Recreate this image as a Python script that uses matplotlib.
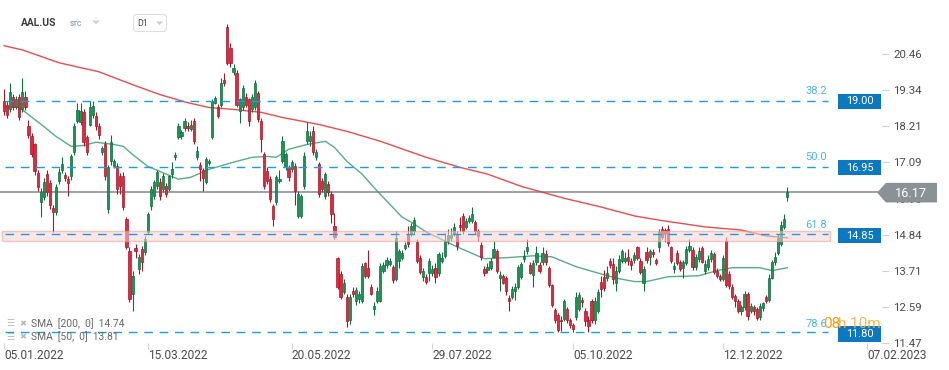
import matplotlib
matplotlib.use('Agg')
import matplotlib.pyplot as plt
from matplotlib.patches import Rectangle, Polygon, FancyBboxPatch
import numpy as np

plt.rcParams['font.family'] = ['Roboto', 'DejaVu Sans']
plt.rcParams['lines.scale_dashes'] = False

# ---------------- data ----------------
opens = [
 18.98, 18.88, 18.73, 19.13, 18.82, 19.13, 18.73, 19.13, 18.23, 17.89,
 17.64, 16.75, 15.85, 16.00, 16.72, 16.44, 15.67, 15.54, 16.50, 16.84,
 16.69, 16.56, 16.65, 17.40, 18.36, 18.33, 18.64, 17.86, 18.26, 18.57,
 18.54, 18.20, 17.40, 17.64, 15.63, 17.12, 16.96, 16.96, 16.65, 16.65,
 15.32, 14.33, 13.00, 14.43, 13.78, 14.40, 14.30, 14.92, 15.73, 16.04,
 16.34, 16.47, 16.25, 16.34, 16.25, 16.72, 17.24, 17.86, 17.89, 18.14,
 18.23, 18.11, 18.36, 17.24, 16.99, 16.84, 16.47, 17.06, 17.86, 18.94,
 18.82, 18.88, 19.66, 21.30, 20.65, 19.90, 19.87, 18.67, 18.79, 19.13,
 19.04, 18.73, 18.79, 19.25, 18.36, 17.33, 16.81, 16.56, 15.73, 15.85,
 16.50, 17.12, 16.93, 16.93, 16.87, 16.96, 15.42, 15.42, 16.34, 17.74,
 17.74, 18.05, 17.24, 17.03, 16.50, 16.04, 16.41, 16.10, 15.11, 14.12,
 13.62, 13.07, 12.91, 12.17, 13.10, 12.76, 12.85, 12.79, 13.96, 13.81,
 13.22, 12.54, 12.79, 12.79, 13.72, 13.90, 13.93, 13.84, 13.47, 14.02,
 14.12, 14.43, 14.86, 14.86, 14.95, 14.61, 14.12, 13.53, 13.53, 13.65,
 13.65, 13.81, 13.65, 14.02, 14.18, 14.64, 14.74, 14.86, 14.86, 15.14,
 15.42, 15.08, 15.26, 15.26, 15.23, 14.95, 14.52, 13.78, 13.75, 13.81,
 14.15, 14.33, 13.50, 13.56, 13.50, 12.88, 12.91, 13.10, 13.22, 13.53,
 14.09, 14.33, 13.90, 13.59, 13.99, 13.90, 13.99, 14.24, 13.81, 13.28,
 12.51, 12.35, 12.20, 12.23, 12.54, 12.17, 12.04, 12.29, 12.54, 12.82,
 12.48, 12.20, 12.79, 12.17, 12.48, 13.37, 13.53, 13.50, 14.02, 13.93,
 13.34, 13.72, 14.02, 14.02, 14.15, 14.02, 14.06, 14.46, 14.02, 13.34,
 14.30, 14.15, 14.30, 14.06, 14.46, 15.01, 14.98, 15.01, 14.46, 13.78,
 14.27, 13.99, 13.81, 13.96, 14.37, 14.37, 13.84, 14.09, 14.43, 13.72,
 13.84, 14.09, 14.24, 13.72, 13.56, 13.47, 14.64, 13.62, 13.22, 12.94,
 12.79, 12.45, 12.60, 13.00, 12.48, 12.60, 12.54, 12.29, 12.57, 12.91,
 12.82, 13.50, 13.99, 14.27, 14.55, 15.08, 16.00]
closes = [
 18.67, 18.57, 19.28, 18.79, 19.04, 18.48, 19.28, 18.82, 17.95, 17.33,
 16.81, 16.31, 16.16, 16.47, 16.16, 15.76, 15.54, 16.31, 16.78, 17.03,
 16.59, 16.44, 17.27, 18.23, 18.70, 18.67, 17.71, 17.40, 18.82, 18.85,
 18.20, 17.92, 17.52, 16.65, 16.93, 17.71, 17.12, 16.25, 16.34, 15.70,
 14.46, 12.85, 13.56, 14.33, 14.15, 13.99, 14.71, 15.48, 16.25, 16.47,
 16.78, 16.04, 16.65, 16.10, 16.65, 16.87, 17.30, 18.20, 18.02, 18.36,
 18.14, 18.26, 17.74, 17.43, 16.87, 16.59, 17.18, 17.12, 18.98, 19.07,
 18.54, 19.56, 19.56, 20.18, 20.18, 20.03, 18.88, 19.04, 19.41, 18.88,
 18.36, 19.13, 19.56, 18.42, 17.80, 16.34, 16.50, 15.94, 15.32, 16.62,
 16.56, 17.74, 17.33, 16.62, 17.09, 16.19, 16.10, 16.04, 17.27, 18.05,
 17.89, 17.40, 17.40, 16.10, 16.25, 16.72, 16.16, 15.48, 14.77, 13.22,
 12.91, 13.35, 12.14, 12.91, 13.00, 13.13, 13.00, 13.87, 13.56, 13.56,
 13.00, 12.63, 13.10, 13.87, 13.90, 14.06, 14.02, 13.44, 14.74, 14.33,
 14.27, 14.52, 14.55, 15.11, 15.29, 14.02, 13.69, 13.72, 13.37, 14.02,
 13.78, 13.53, 14.24, 14.12, 14.64, 14.83, 14.83, 15.08, 14.49, 15.08,
 14.95, 15.26, 15.36, 15.48, 14.95, 14.80, 14.15, 13.65, 13.84, 14.02,
 14.40, 13.72, 13.59, 13.35, 13.10, 12.79, 13.16, 13.22, 13.84, 13.93,
 14.18, 14.46, 13.65, 13.96, 14.27, 13.72, 14.27, 13.99, 13.28, 12.66,
 12.17, 11.86, 12.14, 12.76, 12.20, 12.04, 11.92, 12.91, 12.97, 12.73,
 12.14, 12.01, 12.20, 12.79, 13.07, 13.16, 13.19, 13.65, 13.90, 13.47,
 13.72, 14.09, 14.33, 14.12, 14.02, 13.90, 14.21, 14.12, 13.69, 13.78,
 14.06, 14.33, 14.24, 13.96, 14.92, 14.77, 14.86, 14.58, 14.02, 13.87,
 13.96, 13.78, 13.99, 14.40, 14.49, 13.84, 14.15, 14.33, 13.99, 13.93,
 14.09, 14.27, 13.69, 13.56, 13.47, 14.12, 13.28, 13.25, 12.91, 12.79,
 12.45, 12.60, 13.00, 12.32, 12.63, 12.45, 12.26, 12.63, 12.70, 12.79,
 13.50, 13.99, 14.15, 14.74, 15.14, 15.32, 16.17]
highs = [
 19.35, 18.98, 19.56, 19.20, 19.15, 19.20, 19.72, 19.30, 18.40, 18.00,
 17.70, 16.85, 16.30, 16.60, 16.85, 16.55, 15.75, 16.40, 16.90, 17.25,
 16.80, 16.65, 17.35, 18.30, 18.94, 18.94, 18.75, 17.95, 19.00, 18.98,
 18.65, 18.30, 17.60, 17.75, 17.00, 17.95, 17.20, 17.05, 16.75, 16.80,
 15.40, 14.45, 13.70, 14.55, 14.25, 14.50, 14.80, 15.55, 16.35, 16.55,
 16.85, 16.60, 16.75, 16.45, 16.70, 17.10, 17.40, 18.30, 18.10, 18.45,
 18.35, 18.40, 18.45, 17.60, 17.10, 16.90, 17.25, 17.20, 19.05, 19.15,
 18.90, 19.70, 19.85, 21.39, 20.80, 20.15, 19.95, 19.10, 19.50, 19.25,
 19.10, 19.20, 19.65, 19.30, 18.45, 17.40, 16.95, 16.65, 15.80, 16.70,
 16.85, 17.90, 17.40, 17.00, 17.15, 17.05, 16.20, 16.10, 17.40, 18.35,
 18.05, 18.20, 17.50, 17.10, 16.60, 16.80, 16.50, 16.20, 15.50, 14.15,
 13.70, 13.45, 13.00, 13.00, 13.20, 13.20, 13.10, 13.95, 14.00, 14.35,
 13.30, 12.75, 13.20, 13.95, 14.00, 14.15, 14.10, 13.90, 14.95, 14.40,
 14.35, 14.60, 15.10, 15.20, 15.40, 14.70, 14.20, 13.80, 13.60, 14.10,
 13.90, 13.95, 14.30, 14.30, 14.90, 15.00, 15.05, 15.20, 14.95, 15.40,
 15.50, 15.35, 15.45, 15.70, 15.30, 15.00, 14.60, 13.85, 13.95, 14.10,
 14.65, 14.40, 13.70, 13.60, 13.55, 12.95, 13.25, 13.35, 13.90, 14.00,
 14.35, 14.70, 14.00, 14.05, 14.50, 14.00, 14.45, 14.35, 13.85, 13.30,
 12.55, 12.40, 12.30, 12.85, 12.60, 12.25, 12.10, 13.05, 13.05, 12.90,
 12.55, 12.30, 12.85, 12.90, 13.15, 13.55, 13.75, 13.85, 14.10, 14.10,
 13.85, 14.20, 14.40, 14.30, 14.40, 14.10, 14.30, 14.50, 14.10, 13.85,
 14.45, 14.40, 14.40, 14.10, 15.00, 15.10, 15.05, 15.15, 14.50, 14.00,
 14.35, 14.05, 14.05, 14.50, 14.70, 14.45, 14.25, 14.45, 14.50, 14.05,
 14.20, 14.35, 14.30, 13.80, 13.60, 14.20, 14.75, 13.70, 13.30, 13.00,
 12.85, 12.65, 13.10, 13.05, 12.70, 12.65, 12.60, 12.70, 12.75, 12.95,
 13.60, 14.05, 14.30, 14.85, 15.25, 15.48, 16.31]
lows = [
 18.57, 18.45, 18.65, 18.70, 18.75, 18.40, 18.65, 18.70, 17.85, 17.25,
 16.70, 16.20, 15.39, 15.90, 16.05, 15.65, 14.92, 15.45, 16.40, 16.75,
 16.50, 16.04, 16.55, 17.30, 18.30, 18.25, 17.60, 17.30, 18.20, 18.45,
 18.10, 17.80, 17.30, 16.55, 15.50, 17.00, 16.90, 16.10, 16.10, 15.60,
 14.40, 12.75, 12.48, 14.10, 13.60, 13.70, 14.20, 14.85, 15.60, 15.95,
 16.25, 15.90, 16.15, 16.00, 16.20, 16.60, 17.15, 17.80, 17.80, 18.05,
 18.05, 18.05, 17.65, 17.15, 16.50, 16.20, 16.40, 17.00, 17.80, 18.90,
 18.45, 18.80, 19.45, 20.10, 20.05, 19.80, 18.80, 18.30, 18.70, 18.80,
 18.20, 18.65, 18.70, 18.35, 17.40, 16.25, 16.40, 15.85, 15.11, 15.75,
 16.45, 17.05, 16.85, 16.50, 16.80, 15.75, 15.35, 15.35, 16.25, 17.65,
 17.60, 17.30, 17.15, 16.00, 16.15, 15.95, 16.05, 15.20, 14.70, 13.15,
 12.85, 13.00, 11.98, 12.05, 12.90, 12.65, 12.70, 12.70, 13.50, 13.50,
 12.95, 12.35, 12.70, 12.75, 13.65, 13.80, 13.85, 13.35, 13.40, 13.80,
 14.05, 14.35, 14.45, 14.80, 14.85, 13.95, 13.60, 13.40, 13.30, 13.40,
 13.55, 13.35, 13.55, 13.95, 14.10, 14.55, 14.65, 14.80, 14.35, 14.95,
 14.85, 15.00, 15.20, 15.20, 14.85, 14.65, 14.05, 13.55, 13.65, 13.75,
 14.10, 13.65, 13.10, 13.30, 12.95, 12.45, 12.85, 12.80, 13.15, 13.45,
 14.00, 14.25, 13.60, 13.20, 13.90, 13.65, 13.90, 13.90, 13.20, 12.60,
 12.10, 11.80, 11.85, 12.15, 12.10, 11.95, 11.80, 12.20, 12.45, 12.60,
 12.00, 11.80, 12.10, 12.05, 12.40, 12.90, 13.10, 13.40, 13.80, 13.30,
 13.10, 13.65, 13.95, 13.95, 13.90, 13.75, 13.95, 14.05, 13.60, 13.10,
 13.95, 13.90, 14.15, 13.90, 14.30, 14.70, 14.60, 14.50, 13.95, 13.65,
 13.90, 13.70, 13.50, 13.90, 14.30, 13.75, 13.75, 14.00, 13.95, 13.60,
 13.75, 14.00, 13.60, 13.50, 13.40, 13.40, 13.20, 13.15, 12.85, 12.60,
 12.40, 12.35, 12.50, 12.20, 12.40, 12.35, 12.20, 12.20, 12.45, 12.70,
 12.75, 13.45, 13.90, 14.20, 14.50, 15.00, 15.88]

# moving averages read at sample bars
sma200_bar = [0, 6, 18, 31, 42, 51, 60, 67, 75, 84, 91, 103, 112, 123, 138, 149,
              158, 169, 183, 195, 206, 214, 229, 241, 249, 256]
sma200_val = [20.71, 20.58, 20.18, 19.90, 19.50, 19.19, 18.94, 18.79, 18.73, 18.64,
              18.48, 18.26, 18.05, 17.74, 17.24, 16.93, 16.72, 16.34, 15.97, 15.70,
              15.42, 15.29, 15.08, 14.98, 14.80, 14.74]
sma50_bar = [0, 5, 8, 13, 17, 22, 26, 30, 36, 39, 42, 47, 53, 57, 61, 67, 75, 81, 86,
             89, 93, 99, 105, 108, 112, 117, 122, 126, 130, 133, 138, 148, 157, 164,
             173, 179, 187, 195, 201, 206, 210, 217, 227, 233, 238, 247, 251, 256]
sma50_val = [18.82, 18.79, 18.57, 18.20, 17.89, 17.58, 17.61, 17.71, 17.64, 17.58,
             17.33, 16.96, 16.72, 16.56, 16.62, 16.87, 17.09, 17.24, 17.27, 17.24,
             17.49, 17.64, 17.74, 17.55, 17.12, 16.72, 16.19, 15.79, 15.39, 15.23,
             14.92, 14.46, 14.09, 14.12, 14.18, 14.15, 13.84, 13.62, 13.47, 13.38,
             13.38, 13.53, 13.56, 13.72, 13.81, 13.81, 13.72, 13.81]

fib_levels = [19.00, 16.95, 14.85, 11.80]
fib_labels = ['38.2', '50.0', '61.8', '78.6']
zone_low, zone_high = 14.64, 14.95
last_price = 16.17

y_ticks = [20.46, 19.34, 18.21, 17.09, 15.96, 14.84, 13.71, 12.59, 11.47]
date_bar = [0, 47, 94, 140, 186, 235, 282]
date_labels = ['05.01.2022', '15.03.2022', '20.05.2022', '29.07.2022',
               '05.10.2022', '12.12.2022', '07.02.2023']

legend_lines = ['SMA  [200,  0]  14.74', 'SMA  [50,  0]  13.81']

# ---------------- layout ----------------
W, H = 949, 370
fig = plt.figure(figsize=(W / 100, H / 100), dpi=100)
fig.patch.set_facecolor('white')

AX_R, AX_B = 882, 343
PPU = 32.32            # pixels per price unit
V_TOP = 22.131         # price at top pixel row
PX_BAR = 3.06
X0 = 4.0               # pixel of first bar


def vy(v):
    return (V_TOP - v) * PPU


def bx(px):
    return (px - X0) / PX_BAR


ax = fig.add_axes([0, (H - AX_B) / H, AX_R / W, AX_B / H])
ax.set_facecolor('white')
ax.set_ylim(V_TOP - AX_B / PPU, V_TOP)
ax.set_xlim(bx(0), bx(AX_R))
for s in ax.spines.values():
    s.set_visible(False)

o = np.array(opens); c = np.array(closes)
h = np.maximum(np.array(highs), np.maximum(o, c))
l = np.minimum(np.array(lows), np.minimum(o, c))
x = np.arange(len(c))
up = c >= o
g_fill, g_edge = '#1d9156', '#0e6e3c'
r_fill, r_edge = '#de2a3e', '#a51627'
ax.vlines(x, l, h, colors=np.where(up, g_edge, r_edge), lw=0.8, zorder=3)
body_b = np.minimum(o, c)
body_h = np.maximum(np.abs(c - o), 0.04)
ax.bar(x, body_h, bottom=body_b, width=0.72, color=np.where(up, g_fill, r_fill),
       edgecolor=np.where(up, g_edge, r_edge), linewidth=0.5, zorder=4)

# moving averages
ax.plot(sma200_bar, sma200_val, color='#e5393c', lw=1.0, zorder=2.5, alpha=0.9)
ax.plot(sma50_bar, sma50_val, color='#3a9d74', lw=1.0, zorder=2.5, alpha=0.85)

# last price line
ax.plot([bx(0), bx(878)], [last_price, last_price], color='#80878b', lw=1.1, zorder=2)

# pink zone
ax.add_patch(Rectangle((bx(2), zone_low), bx(830) - bx(2), zone_high - zone_low,
                       facecolor='#fbd3d3', edgecolor='#f09a9a', lw=1.0, alpha=0.55,
                       zorder=5))

# fib dashed lines
for lv in fib_levels:
    ax.plot([bx(5), bx(828)], [lv, lv], color='#1c9de2', lw=1.0,
            linestyle=(0, (6.2, 4.9)), zorder=6)

# ticks
ax.yaxis.tick_right()
ax.set_yticks(y_ticks)
ax.set_yticklabels([f'{t:.2f}' for t in y_ticks])
ax.tick_params(axis='y', direction='out', length=5, width=0.8, colors='#cfcfcf',
               labelcolor='#4a4a4a', labelsize=8.2, pad=3)
ax.set_xticks(date_bar)
ax.set_xticklabels(date_labels)
ax.tick_params(axis='x', direction='out', length=4, width=0.8, colors='#d5d5d5',
               labelcolor='#4a4a4a', labelsize=8.6, pad=0.5)
for lbl in ax.get_xticklabels():
    lbl.set_ha('left')

# ---------------- overlay (pixel coordinates) ----------------
ov = fig.add_axes([0, 0, 1, 1])
ov.set_xlim(0, W)
ov.set_ylim(H, 0)
ov.axis('off')

for lv, lab in zip(fib_levels, fib_labels):
    y = vy(lv)
    ov.text(827, y - 10, lab, color='#4db3ec', fontsize=8, ha='right', va='center')
    ov.add_patch(Rectangle((838, y - 7.5), 43.5, 15.5, facecolor='#0b78c0',
                           edgecolor='none', zorder=7))
    ov.text(859.5, y + 0.3, f'{lv:.2f}', color='white', fontsize=7.9, ha='center',
            va='center', zorder=8)

# last price badge
yp = vy(last_price)
ov.add_patch(Polygon([(877, yp), (886, yp - 9.8), (937, yp - 9.8), (937, yp + 9.8),
                      (886, yp + 9.8)], closed=True, facecolor='#8a9296',
                     edgecolor='none', zorder=9))
ov.text(911, yp + 0.5, f'{last_price:.2f}', color='white', fontsize=9.2, ha='center',
        va='center', zorder=10)

# header
ov.text(21, 23, 'AAL.US', color='#3c3c3c', fontsize=7.4, fontweight='bold',
        ha='left', va='center')
ov.text(70, 23.5, 'STC', color='#8aa0b4', fontsize=4.8, fontweight='bold',
        ha='left', va='center')
ov.add_patch(Polygon([(92, 20.5), (100, 20.5), (96, 24.5)], closed=True,
                     facecolor='#d4d4d4', edgecolor='none'))
ov.add_patch(FancyBboxPatch((133.5, 14.5), 33, 17, boxstyle='round,pad=0,rounding_size=3',
                            facecolor='white', edgecolor='#dedede', lw=0.8))
ov.text(137.5, 23.5, 'D1', color='#444444', fontsize=6.3, ha='left', va='center')
ov.add_patch(Polygon([(156, 21.5), (163, 21.5), (159.5, 25)], closed=True,
                     facecolor='#cccccc', edgecolor='none'))

# legend
for i, txt in enumerate(legend_lines):
    yy = 324 + 13 * i
    ov.text(6, yy, '☰', color='#b8b8b8', fontsize=6.5, ha='left', va='center',
            family=['DejaVu Sans'])
    ov.text(19, yy, '✖', color='#b8b8b8', fontsize=6, ha='left', va='center',
            family=['DejaVu Sans'])
    ov.text(31, yy, txt, color='#666666', fontsize=7.4, ha='left', va='center')

# countdown
ov.text(823, 323.5, '08', color='#f59d12', fontsize=11, ha='left', va='center', zorder=11)
ov.text(838.5, 323.5, 'h 10m', color='#f7b04a', fontsize=11, ha='left', va='center',
        zorder=11, alpha=0.9)

fig.savefig('out.png', dpi=100, facecolor='white')
